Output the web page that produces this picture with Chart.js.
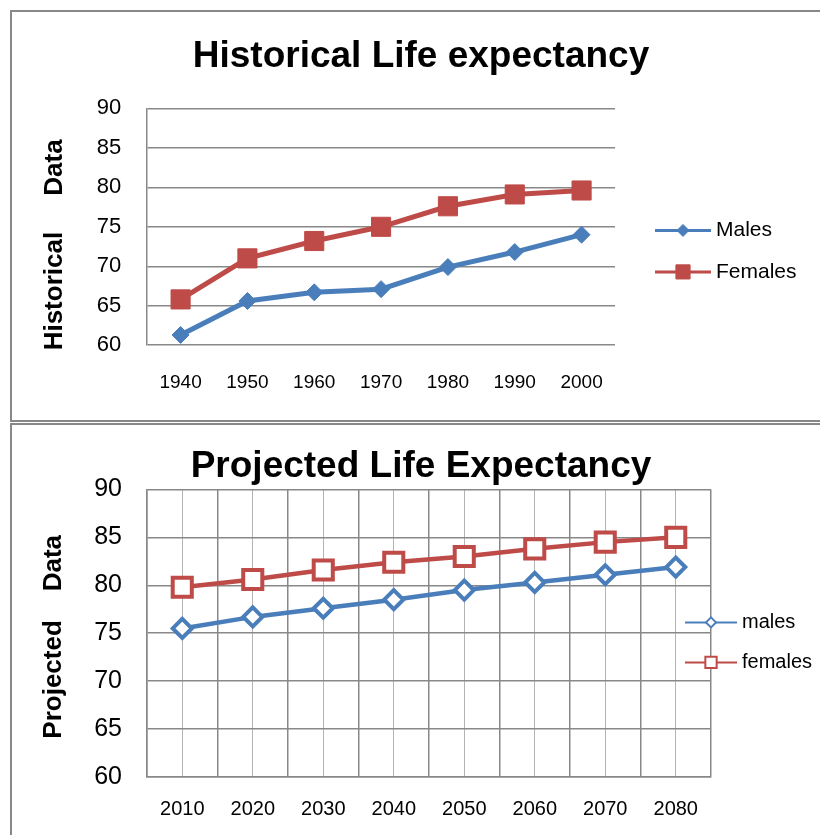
<!DOCTYPE html>
<html>
<head>
<meta charset="utf-8">
<title>Life expectancy</title>
<script src="https://cdn.jsdelivr.net/npm/chart.js@4/dist/chart.umd.min.js"></script>
<style>
  html, body { margin: 0; padding: 0; background: #fff; overflow: hidden; width: 820px; height: 835px; }
  .panel { position: absolute; left: 10px; width: 900px; border: 2px solid #888; border-right: none; background: #fff; }
  #panel-hist { top: 10px; height: 408px; }
  #panel-proj { top: 423px; height: 440px; border-bottom: none; }
  canvas { display: block; }
</style>
</head>
<body>
<div class="panel" id="panel-hist"><canvas id="histChart" width="808" height="408"></canvas></div>
<div class="panel" id="panel-proj"><canvas id="projChart" width="808" height="420"></canvas></div>
<script>
// historical data
const histYears = ["1940", "1950", "1960", "1970", "1980", "1990", "2000"];
const histMales = [61.3, 65.6, 66.7, 67.1, 69.9, 71.8, 74.0];
const histFemales = [65.8, 71.0, 73.2, 75.0, 77.6, 79.1, 79.6];

// projected data
const projYears = ["2010", "2020", "2030", "2040", "2050", "2060", "2070", "2080"];
const projMales = [75.5, 76.7, 77.6, 78.5, 79.5, 80.3, 81.1, 81.9];
const projFemales = [79.8, 80.6, 81.6, 82.4, 83.0, 83.8, 84.5, 85.0];

const yMin = 60, yMax = 90, yStep = 5;

const BLUE = "#4a7ebb";
const RED = "#be4b48";
const GRID = "#888";
const FONT = "'Liberation Sans', Arial, sans-serif";

Chart.defaults.font.family = FONT;
Chart.defaults.color = "#000";

// legend with a line through the marker, like the spreadsheet one
const lineLegend = {
  id: "lineLegend",
  afterDraw(chart, args, opts) {
    const { ctx, chartArea } = chart;
    const font = Chart.helpers.toFont(opts.font);
    ctx.save();
    ctx.font = font.string;
    ctx.textBaseline = "middle";
    chart.data.datasets.forEach((ds, i) => {
      const x = chartArea.right + opts.dx;
      const y = chartArea.top + opts.dy + i * opts.rowGap;
      ctx.strokeStyle = ds.borderColor;
      ctx.lineWidth = opts.lineWidth;
      ctx.beginPath();
      ctx.moveTo(x, y);
      ctx.lineTo(x + opts.lineLength, y);
      ctx.stroke();
      const m = opts.markers[i];
      ctx.fillStyle = ds.pointBackgroundColor;
      ctx.lineWidth = m.borderWidth;
      Chart.helpers.drawPoint(ctx, { pointStyle: ds.pointStyle, radius: m.radius, borderWidth: m.borderWidth, rotation: 0 }, x + opts.lineLength / 2, y);
      ctx.fillStyle = "#000";
      ctx.fillText(ds.label, x + opts.lineLength + opts.textGap, y);
    });
    ctx.restore();
  }
};

// empty axis on the right that keeps room for the legend
function legendSpace(width) {
  return {
    type: "linear",
    position: "right",
    grid: { display: false, drawTicks: false },
    border: { display: false },
    ticks: { display: false },
    afterFit: (scale) => { scale.width = width; }
  };
}

function renderHistChart() {
  new Chart(document.getElementById("histChart"), {
    type: "line",
    data: {
      labels: histYears,
      datasets: [
        {
          label: "Males",
          data: histMales,
          borderColor: BLUE,
          borderWidth: 5,
          pointStyle: "rectRot",
          pointRadius: 8.5,
          pointBackgroundColor: BLUE,
          pointBorderColor: BLUE,
          pointBorderWidth: 1,
          tension: 0
        },
        {
          label: "Females",
          data: histFemales,
          borderColor: RED,
          borderWidth: 5,
          pointStyle: "rect",
          pointRadius: 13.5,
          pointBackgroundColor: RED,
          pointBorderColor: RED,
          pointBorderWidth: 1,
          tension: 0
        }
      ]
    },
    options: {
      responsive: false,
      animation: false,
      layout: { padding: { left: 10, right: 0, top: 10, bottom: 0 } },
      plugins: {
        legend: { display: false },
        tooltip: { enabled: false },
        title: {
          display: true,
          text: "Historical Life expectancy",
          color: "#000",
          font: { size: 37, weight: "bold" },
          padding: { top: 12.5, bottom: 29.5 }
        },
        lineLegend: {
          dx: 40, dy: 122, rowGap: 41.5, lineLength: 56, lineWidth: 3, textGap: 5,
          font: { family: FONT, size: 21 },
          markers: [{ radius: 6, borderWidth: 1 }, { radius: 10, borderWidth: 1 }]
        }
      },
      scales: {
        x: {
          offset: true,
          grid: { display: false, drawTicks: false },
          border: { display: false },
          ticks: { color: "#000", padding: 26, font: { size: 19 } }
        },
        y: {
          min: yMin,
          max: yMax,
          ticks: { stepSize: yStep, padding: 26, color: "#000", font: { size: 22 } },
          grid: { color: GRID, lineWidth: 1.5, drawTicks: false },
          border: { display: true, color: GRID, width: 1.5 },
          title: {
            display: true,
            text: "Historical     Data     ",
            color: "#000",
            font: { size: 26, weight: "bold" },
            padding: { top: 17.5, bottom: 0 }
          }
        },
        legendRoom: legendSpace(205)
      }
    },
    plugins: [lineLegend]
  });
}

function renderProjChart() {
  new Chart(document.getElementById("projChart"), {
    type: "line",
    data: {
      labels: projYears,
      datasets: [
        {
          label: "males",
          data: projMales,
          borderColor: BLUE,
          borderWidth: 4.5,
          pointStyle: "rectRot",
          pointRadius: 9.5,
          pointBackgroundColor: "#fff",
          pointBorderColor: BLUE,
          pointBorderWidth: 4,
          tension: 0
        },
        {
          label: "females",
          data: projFemales,
          borderColor: RED,
          borderWidth: 4.5,
          pointStyle: "rect",
          pointRadius: 13.5,
          pointBackgroundColor: "#fff",
          pointBorderColor: RED,
          pointBorderWidth: 4,
          tension: 0
        }
      ]
    },
    options: {
      responsive: false,
      animation: false,
      layout: { padding: { left: 10, right: 0, top: 8, bottom: 4 } },
      plugins: {
        legend: { display: false },
        tooltip: { enabled: false },
        title: {
          display: true,
          text: "Projected Life Expectancy",
          color: "#000",
          font: { size: 37, weight: "bold" },
          padding: { top: 12, bottom: 0 }
        },
        lineLegend: {
          dx: -26, dy: 133, rowGap: 40, lineLength: 52, lineWidth: 2, textGap: 5,
          font: { family: FONT, size: 20 },
          markers: [{ radius: 5, borderWidth: 2 }, { radius: 8, borderWidth: 2 }]
        }
      },
      scales: {
        x: {
          offset: true,
          grid: { offset: true, color: GRID, lineWidth: 1.5, drawTicks: false },
          border: { display: true, color: GRID, width: 1.5 },
          ticks: { color: "#000", padding: 20, font: { size: 20 } }
        },
        // second category axis, only for the lighter lines through each year
        xMid: {
          type: "category",
          position: "bottom",
          offset: true,
          grid: { offset: false, color: "#b4b4b4", lineWidth: 1, drawTicks: false },
          border: { display: false },
          ticks: { display: false }
        },
        y: {
          min: yMin,
          max: yMax,
          ticks: { stepSize: yStep, padding: 25, color: "#000", font: { size: 25 } },
          grid: { color: GRID, lineWidth: 1.5, drawTicks: false },
          border: { display: true, color: GRID, width: 1.5 },
          title: {
            display: true,
            text: "Projected    Data ",
            color: "#000",
            font: { size: 26, weight: "bold" },
            padding: { top: 16, bottom: 0 }
          }
        },
        legendRoom: legendSpace(109)
      }
    },
    plugins: [lineLegend]
  });
}

document.addEventListener("DOMContentLoaded", () => {
  renderHistChart();
  renderProjChart();
});
</script>
</body>
</html>
